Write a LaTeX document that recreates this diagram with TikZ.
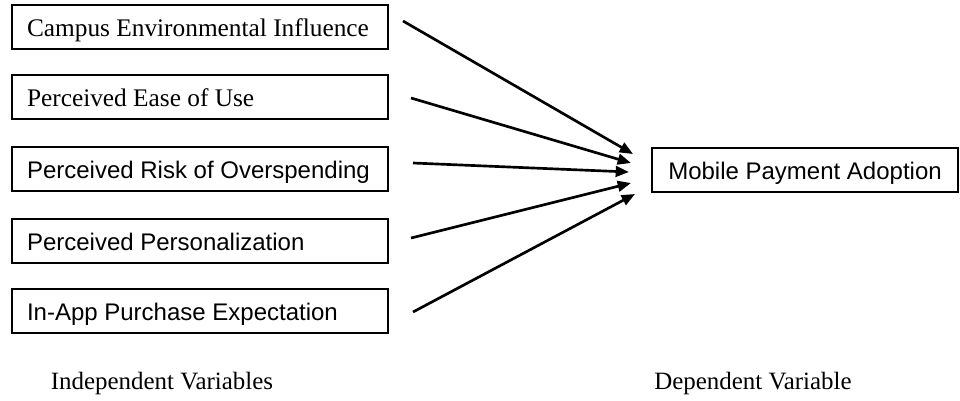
\documentclass[tikz,border=0pt]{standalone}
\usepackage{fontspec}
\setmainfont{Liberation Serif}
\newfontfamily\sansfnt{Liberation Sans}
\usetikzlibrary{arrows.meta}
\usetikzlibrary{calc}

\newcommand{\vartext}[1]{\makebox[259.5pt][l]{#1}}

\begin{document}
\begin{tikzpicture}[x=0.75pt,y=-0.75pt,outer sep=0pt,
varblock/.style={draw,rectangle,line width=0.9pt,anchor=west,inner xsep=11.25pt,inner ysep=0pt,
  minimum height=33pt,minimum width=282pt,text height=16pt,text depth=2.5pt},
depblock/.style={draw,rectangle,line width=0.9pt,anchor=west,inner xsep=10pt,inner ysep=0pt,
  minimum height=33pt,minimum width=229.5pt,text height=16.5pt,text depth=2pt},
arr/.style={-{Triangle[length=10pt,width=8pt]},line width=2pt},
serif/.style={font=\fontsize{19}{22}\selectfont},
sans/.style={font=\sansfnt\fontsize{18}{21}\selectfont}]

\useasboundingbox (0,0) rectangle (960,400);

% independent variables
\node[varblock,serif] (cei) at (12,27) {\vartext{Campus Environmental Influence}};
\node[varblock,serif] (peu) at (12,97) {\vartext{Perceived Ease of Use}};
\node[varblock,sans] (pro) at (12,169) {\vartext{Perceived Risk of Overspending}};
\node[varblock,sans] (pp) at (12,241) {\vartext{Perceived Personalization}};
\node[varblock,sans] (ipe) at (12,311) {\vartext{In-App Purchase Expectation}};

% dependent variable
\node[depblock,sans] (mpa) at (652,170) {Mobile Payment Adoption};

% arrow tips
\coordinate (tip1) at ($(mpa.west)+(-19,-16)$);
\coordinate (tip2) at ($(mpa.west)+(-21,-7)$);
\coordinate (tip3) at ($(mpa.west)+(-23,2)$);
\coordinate (tip4) at ($(mpa.west)+(-21,13)$);
\coordinate (tip5) at ($(mpa.west)+(-17,24)$);

\draw[arr] ($(cei.east)+(15,-6)$) -- (tip1);
\draw[arr] ($(peu.east)+(23,1)$) -- (tip2);
\draw[arr] ($(pro.east)+(25,-6)$) -- (tip3);
\draw[arr] ($(pp.east)+(23,-3)$) -- (tip4);
\draw[arr] ($(ipe.east)+(25,1)$) -- (tip5);

% captions
\node[font=\fontsize{18.7}{22}\selectfont] (indep) at (162,383) {Independent Variables};
\node[font=\fontsize{18.7}{22}\selectfont] (dep) at (753,383) {Dependent Variable};
\end{tikzpicture}
\end{document}
